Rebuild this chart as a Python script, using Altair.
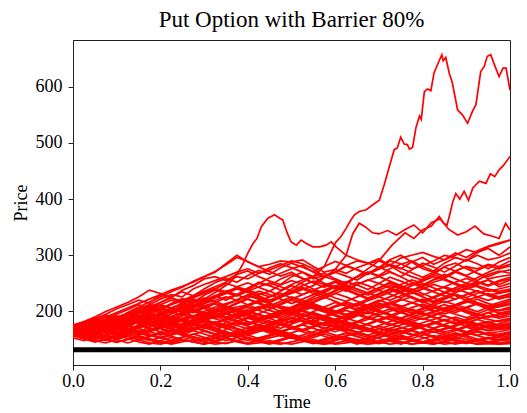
import altair as alt
import pandas as pd

# ---------------- data ----------------
time_grid = [0.0, 0.025, 0.05, 0.075, 0.1, 0.125, 0.15, 0.175, 0.2, 0.225,
             0.25, 0.275, 0.3, 0.325, 0.35, 0.375, 0.4, 0.425, 0.45, 0.475,
             0.5, 0.525, 0.55, 0.575, 0.6, 0.625, 0.65, 0.675, 0.7, 0.725,
             0.75, 0.775, 0.8, 0.825, 0.85, 0.875, 0.9, 0.925, 0.95, 0.975, 1.0]

upper_paths = [
    [170,178,186,195,205,212,220,215,230,238,245,252,262,270,285,300,288,280,284,290,288,292,280,270,275,268,278,285,290,282,295,300,305,298,292,300,310,305,315,320,327],
    [165,172,168,180,188,195,205,212,222,230,226,240,248,255,262,270,276,268,274,282,290,285,276,262,270,280,275,266,278,290,285,276,282,290,300,296,290,305,312,300,315],
    [160,166,175,170,182,190,198,192,205,214,220,228,236,244,252,262,258,268,278,285,278,270,262,268,258,250,262,270,264,276,284,290,280,272,286,296,290,300,292,296,304],
    [175,182,190,200,208,216,226,238,232,225,238,246,258,262,255,266,272,262,254,248,262,270,258,264,270,282,290,286,278,292,300,288,276,270,262,272,280,276,284,280,290],
    [168,174,182,178,190,196,190,200,212,220,214,224,232,240,250,244,238,250,260,268,276,282,270,262,256,250,262,268,276,282,270,262,256,266,280,286,276,268,262,270,274],
    [172,180,188,180,172,180,190,202,210,206,214,222,218,228,236,230,242,250,246,238,248,256,262,250,244,236,248,256,262,270,262,252,246,256,262,272,280,268,258,262,265],
    [162,170,176,184,178,188,196,204,198,206,214,208,218,226,236,242,236,228,220,228,236,246,254,248,240,252,262,270,262,254,246,238,244,252,258,250,244,250,256,248,256],
    [158,164,160,170,178,172,182,190,198,206,200,210,220,228,220,230,238,232,226,236,246,240,232,224,232,240,248,256,250,242,236,246,254,262,256,248,240,248,256,244,250],
    [170,176,184,190,198,206,214,222,230,224,216,208,216,224,232,240,234,226,218,226,234,242,236,228,236,244,252,246,238,246,240,232,240,248,242,234,240,246,240,236,240],
]

middle_paths = [
    [166,172,168,176,184,190,184,178,188,196,204,198,206,214,208,200,210,218,226,232,224,216,226,236,244,238,230,222,230,240,248,256,250,242,234,242,250,244,236,240,245],
    [170,164,172,180,188,196,204,212,208,200,194,202,210,216,224,230,222,214,206,214,222,230,238,232,224,218,226,234,242,250,242,234,226,218,226,234,242,236,230,232,238],
    [162,168,174,168,176,184,178,186,194,190,198,206,214,220,226,220,212,204,210,218,226,220,214,206,198,206,214,222,230,238,232,224,216,224,232,240,234,226,220,226,232],
    [174,180,174,166,172,180,188,196,190,184,192,200,194,188,196,204,212,220,214,208,200,208,216,224,232,226,218,210,218,226,234,240,232,224,216,222,230,236,228,222,228],
    [158,164,170,176,182,188,194,188,182,190,198,204,198,192,184,192,200,208,202,196,204,212,218,226,218,210,204,212,220,214,206,198,206,214,222,230,224,216,210,216,222],
    [168,174,180,186,192,186,178,184,192,200,208,216,224,218,210,202,196,204,212,206,200,192,200,208,216,210,202,196,204,212,220,226,218,210,204,210,216,222,214,210,218],
    [164,160,166,172,166,174,182,176,170,178,186,192,186,194,202,196,188,196,204,212,220,214,206,200,208,214,208,200,194,200,208,216,210,202,196,202,208,214,206,208,212],
    [176,170,178,186,180,188,196,204,212,206,198,192,200,208,214,220,228,222,214,206,198,206,212,206,200,192,198,204,210,216,210,202,194,200,206,212,218,212,204,202,208],
    [160,166,172,166,160,168,176,184,178,186,194,188,196,204,198,190,198,206,214,208,200,194,186,192,200,208,214,208,200,194,188,194,200,206,212,206,198,192,198,202,204],
    [170,176,182,176,170,164,172,180,188,182,176,184,192,200,208,202,196,188,194,200,206,214,208,200,194,188,182,190,198,204,198,192,186,194,200,208,202,196,190,196,200],
    [156,162,168,174,168,176,170,178,186,180,172,180,188,196,190,184,178,186,194,202,196,188,182,190,196,202,196,190,184,190,198,204,198,190,184,178,186,192,198,190,196],
    [166,160,166,172,178,184,178,172,180,188,182,176,170,178,186,194,200,194,188,180,188,196,190,184,178,184,192,198,192,186,180,186,192,198,192,186,180,186,192,188,192],
    [164,170,176,182,176,184,192,186,194,202,210,204,196,204,212,220,228,236,230,222,214,222,230,238,246,240,232,224,232,240,234,226,218,226,234,228,220,226,232,226,230],
    [172,166,172,178,186,194,200,194,188,196,204,212,206,198,206,214,222,216,208,200,208,216,210,202,194,188,196,204,210,216,222,216,208,200,206,212,220,214,206,210,214],
    [160,166,160,168,174,180,186,192,186,180,174,182,190,198,206,200,192,186,180,186,194,202,196,190,184,190,198,206,212,206,200,192,186,192,200,206,200,194,190,194,198],
    [168,174,180,174,182,190,196,204,198,190,184,178,186,194,188,182,176,182,190,198,206,200,194,186,180,186,194,188,182,176,182,190,196,190,184,178,184,190,186,182,186],
]

lower_paths = [
    [172,166,160,168,176,170,164,172,180,174,168,176,184,178,172,180,188,182,176,170,178,184,190,184,178,172,180,186,192,186,180,174,180,186,192,186,180,174,180,184,188],
    [162,156,162,168,174,168,162,156,164,172,178,172,166,160,168,176,182,176,170,164,170,178,184,178,172,166,172,178,184,190,184,178,172,178,184,190,184,178,172,178,184],
    [168,174,168,162,168,176,182,176,170,164,158,166,174,180,174,168,162,170,176,182,188,182,176,170,176,182,176,170,164,170,176,182,188,182,176,170,164,170,176,174,180],
    [158,164,158,152,158,164,170,164,158,164,170,176,182,176,170,164,158,164,170,176,170,164,158,164,170,176,182,176,170,164,170,176,170,164,170,176,182,176,170,172,176],
    [174,168,174,180,174,168,162,168,174,180,186,180,174,168,174,180,174,168,162,156,162,168,174,180,174,168,162,168,174,168,162,168,174,180,174,168,162,168,174,168,172],
    [164,170,164,158,152,158,164,158,152,158,164,170,176,170,164,158,164,170,164,158,152,158,164,170,176,170,164,158,164,170,164,158,164,170,176,170,164,158,162,164,168],
    [160,154,160,166,172,166,160,166,172,178,172,166,160,154,148,154,160,166,172,166,160,154,160,166,172,178,172,166,160,154,160,166,160,154,160,166,172,166,160,160,164],
    [170,164,158,152,158,164,158,164,170,164,158,152,146,152,158,164,158,152,158,164,170,176,170,164,158,152,146,152,158,164,158,152,158,164,158,152,158,164,158,156,160],
    [155,160,154,148,154,160,166,160,154,148,154,160,154,148,154,160,166,172,166,160,154,148,154,160,154,148,142,148,154,160,166,160,154,148,154,160,154,148,152,154,157],
    [166,160,154,160,166,160,154,148,154,160,166,172,166,160,154,148,144,150,156,162,156,150,144,150,156,150,144,148,154,160,154,148,144,150,156,150,146,150,154,150,154],
    [162,156,150,156,150,144,150,156,162,156,150,146,152,158,164,158,152,146,142,148,154,148,144,150,156,162,156,150,144,148,154,150,146,142,148,154,150,146,144,148,150],
    [157,152,146,152,158,152,146,142,148,154,150,146,142,148,154,160,154,148,144,150,156,150,144,142,148,154,148,144,148,152,146,142,146,150,146,142,146,150,146,144,147],
    [160,154,148,144,150,156,150,144,142,146,150,146,142,146,152,146,142,144,148,144,142,146,150,146,142,144,148,152,146,142,144,148,144,142,146,150,146,142,144,143,145],
    [168,162,156,150,146,150,156,150,146,142,146,150,146,142,144,148,152,148,144,142,146,150,146,142,144,148,144,142,144,148,146,142,144,146,142,144,146,142,143,142,143],
    [156,162,168,162,170,176,182,188,182,176,170,176,184,190,196,190,182,176,170,176,182,190,196,190,184,178,172,178,186,192,186,180,174,180,186,180,174,178,182,176,178],
    [176,170,176,184,190,196,190,184,176,170,164,170,176,182,176,170,164,170,178,184,190,184,178,170,164,170,176,170,164,158,164,170,176,170,164,168,174,170,166,168,170],
    [162,168,162,156,162,168,174,180,174,168,162,168,174,168,162,156,162,168,174,180,174,168,162,156,150,156,162,168,162,156,150,156,162,168,162,156,160,164,160,158,162],
]

extra_paths = [
    [165,171,179,174,183,191,186,197,205,199,212,220,214,226,233,228,241,252,246,258,266,259,251,262,270,263,256,268,279,271,262,274,286,279,270,281,292,285,276,288,296],
    [172,168,177,185,180,190,198,207,201,214,223,216,229,238,232,244,251,243,236,247,255,249,240,233,245,253,247,239,250,261,254,246,258,266,259,270,263,255,266,272,268],
    [167,175,182,191,187,198,208,217,226,235,243,254,262,271,283,296,289,279,271,263,270,259,251,243,252,244,236,229,238,231,224,233,241,235,228,222,230,237,230,224,226],
    [159,163,158,166,171,165,174,181,176,169,177,185,179,172,180,188,195,189,183,176,184,191,198,192,186,193,201,208,202,195,188,196,204,211,205,198,206,214,208,201,207],
    [176,181,187,182,176,183,190,184,178,171,178,186,193,187,181,175,169,176,183,177,171,165,172,179,186,180,174,168,175,182,188,182,176,170,177,184,178,172,166,173,179],
    [153,148,155,150,145,151,157,152,147,144,149,155,151,146,143,148,153,149,145,150,156,151,147,144,149,154,150,146,143,147,152,148,144,149,153,149,145,148,152,148,151],
    [161,167,162,157,163,169,175,170,164,159,165,171,166,160,155,161,167,173,168,162,157,151,157,163,169,164,159,154,160,166,171,166,161,156,150,156,162,157,152,158,163],
    [169,163,170,177,171,179,186,180,173,181,188,182,175,168,176,183,190,184,192,199,193,201,208,202,210,217,211,219,226,220,228,235,229,237,244,238,246,253,247,255,261],
    [174,180,187,194,188,196,203,210,204,212,219,213,206,199,207,200,193,186,194,187,180,188,181,175,182,176,170,177,184,178,172,166,173,180,174,168,162,169,176,170,174],
    [163,170,178,186,195,203,212,205,216,226,235,228,240,251,259,252,264,273,266,278,286,279,271,280,289,282,274,266,275,284,277,269,261,270,279,272,264,273,282,276,281],
    [157,162,168,174,169,176,183,189,184,191,198,192,186,180,187,194,201,195,189,196,204,211,205,199,192,186,193,200,207,214,208,215,222,216,223,231,225,232,239,233,236],
    [164,158,152,157,162,156,150,155,161,167,161,155,149,154,160,154,148,153,158,164,158,152,146,151,156,161,155,150,145,150,156,151,146,151,156,162,157,151,146,150,155],
    [170,175,169,176,182,188,183,177,184,191,197,191,185,192,198,205,199,193,187,194,200,207,213,207,201,195,202,208,215,209,203,197,204,211,218,212,206,200,207,213,219],
    [162,168,174,181,188,182,190,198,206,200,208,217,210,203,212,221,230,223,216,225,234,243,236,228,238,247,240,232,242,252,245,237,247,257,266,258,250,260,270,278,284],
    [158,152,158,164,170,165,159,165,171,177,183,177,171,165,159,165,171,177,171,165,170,176,182,188,182,176,170,164,169,175,181,175,169,163,168,174,180,186,180,174,168],
    [171,177,184,178,186,194,201,209,216,224,218,226,234,241,235,228,236,244,251,244,237,230,238,246,254,247,240,233,226,234,242,250,243,236,244,252,259,252,245,253,258],
    [157,151,146,150,155,160,154,149,144,149,154,159,165,159,153,148,143,148,153,158,153,148,143,147,152,157,162,157,152,147,142,147,152,157,152,147,143,148,153,149,152],
    [166,172,178,173,180,187,193,187,194,200,207,201,195,188,195,202,208,202,196,190,197,204,210,204,198,205,212,206,199,193,200,207,213,207,201,195,189,196,203,197,201],
]

# highest path (peaks ~655)
top_times = [0,0.025,0.05,0.075,0.1,0.125,0.15,0.175,0.2,0.225,0.25,0.275,0.3,0.325,0.35,0.375,0.4,0.425,0.45,0.475,
             0.5,0.525,0.55,0.575,0.594,0.602,0.613,0.625,0.636,0.644,0.655,0.671,0.686,0.701,0.712,0.724,0.735,0.742,0.750,0.758,
             0.765,0.770,0.777,0.785,0.793,0.797,0.804,0.811,0.819,0.826,0.834,0.844,0.847,0.853,0.861,0.868,0.880,0.891,0.903,0.914,
             0.922,0.933,0.941,0.948,0.956,0.963,0.975,0.984,0.991,1.0]
top_values = [166,172,168,176,182,178,186,192,186,196,204,198,208,214,206,216,224,230,236,228,
              240,252,262,280,312,324,333,348,363,372,378,381,390,398,425,458,488,491,510,498,
              497,489,492,528,548,542,591,596,593,624,639,657,646,652,624,607,559,550,535,556,
              568,627,636,654,657,642,618,633,633,594]

# second path (ends ~475)
second_times = [0,0.05,0.1,0.15,0.2,0.25,0.3,0.35,0.4,0.45,0.5,0.55,0.6,0.65,0.7,0.73,0.76,0.78,0.8,0.82,
                0.838,0.848,0.856,0.862,0.869,0.876,0.885,0.895,0.905,0.915,0.93,0.945,0.955,0.965,0.975,0.985,1.0]
second_values = [168,176,170,182,176,188,196,190,204,212,206,222,236,262,290,318,340,330,345,352,
                 369,357,354,372,395,410,400,414,398,420,432,428,445,440,452,460,476]

# path with the early bump (~370 at t=0.46)
bump_times = [0,0.05,0.1,0.15,0.2,0.25,0.3,0.33,0.36,0.381,0.39,0.4,0.412,0.421,0.431,0.446,0.461,0.473,0.480,0.489,
              0.499,0.511,0.522,0.534,0.549,0.564,0.579,0.591,0.602,0.625,0.65,0.675,0.7,0.725,0.75,0.775,0.8,0.825,0.85,0.875,
              0.9,0.925,0.95,0.975,1.0]
bump_values = [164,170,178,186,196,208,222,236,252,274,286,304,321,330,351,366,372,366,363,342,
               324,318,327,321,315,315,318,324,315,300,292,286,294,282,276,288,296,284,292,304,
               296,308,316,322,327]

# path hovering ~340-360 in the second half
plateau_times = [0,0.05,0.1,0.15,0.2,0.25,0.3,0.35,0.4,0.45,0.5,0.55,0.6,0.625,0.64,0.655,0.67,0.685,0.7,0.72,
                 0.74,0.76,0.78,0.8,0.82,0.84,0.86,0.88,0.9,0.92,0.94,0.96,0.975,0.99,1.0]
plateau_values = [170,164,174,182,190,184,196,204,212,220,232,246,275,300,338,357,350,340,338,344,
                  336,346,354,340,358,365,346,336,342,352,338,334,330,357,345]

barrier_level = 132
title_text = "Put Option with Barrier 80%"
x_ticks = [0.0, 0.2, 0.4, 0.6, 0.8, 1.0]
y_ticks = [200, 300, 400, 500, 600]

# ---------------- build table ----------------
rows = []
pid = 0
for group in (upper_paths, middle_paths, lower_paths, extra_paths):
    for vals in group:
        for t, v in zip(time_grid, vals):
            rows.append({"path": pid, "t": t, "price": v})
        pid += 1
for ts, vs in ((top_times, top_values), (second_times, second_values),
               (bump_times, bump_values), (plateau_times, plateau_values)):
    for t, v in zip(ts, vs):
        rows.append({"path": pid, "t": t, "price": v})
    pid += 1
df = pd.DataFrame(rows)
barrier_df = pd.DataFrame({"t": [0.0, 1.0], "price": [barrier_level, barrier_level]})

serif = "Liberation Serif, Times New Roman, serif"

x_scale = alt.Scale(domain=[0, 1], nice=False, zero=False)
y_scale = alt.Scale(domain=[104.8, 683.1], nice=False, zero=False)

x_enc = alt.X("t:Q", scale=x_scale,
              axis=alt.Axis(title="Time", values=x_ticks, format=".1f",
                            labelFlush=False, labelPadding=2, titlePadding=3,
                            labelOffset={"condition": {"test": "datum.value >= 1", "value": -3},
                                         "value": 0}))
y_enc = alt.Y("price:Q", scale=y_scale,
              axis=alt.Axis(title="Price", values=y_ticks, labelPadding=6,
                            titlePadding=5))

paths = alt.Chart(df).mark_line(color="#ff0000", strokeWidth=1.7, clip=True).encode(
    x=x_enc, y=y_enc, detail="path:N", order="t:Q")

barrier = alt.Chart(barrier_df).mark_line(color="black", strokeWidth=5).encode(
    x=alt.X("t:Q", scale=x_scale), y=alt.Y("price:Q", scale=y_scale))

chart = alt.layer(paths, barrier).properties(
    width=437, height=325,
    title=alt.TitleParams(title_text),
    autosize=alt.AutoSizeParams(type="none"),
    padding={"left": 65, "top": 32, "right": 9, "bottom": 48},
).configure_view(
    stroke="#222222", strokeWidth=1
).configure_axis(
    labelFont=serif, titleFont=serif,
    labelFontSize=18, titleFontSize=18, labelColor="black", titleColor="black",
    titleFontWeight="normal", domainColor="#222222", tickColor="#222222",
    tickSize=5, grid=False, labelOverlap=False
).configure_title(
    font=serif, fontSize=23, fontWeight="normal", color="black",
    anchor="middle", offset=8
)

chart.save("out.html", embed_options={"renderer": "svg", "actions": False})
